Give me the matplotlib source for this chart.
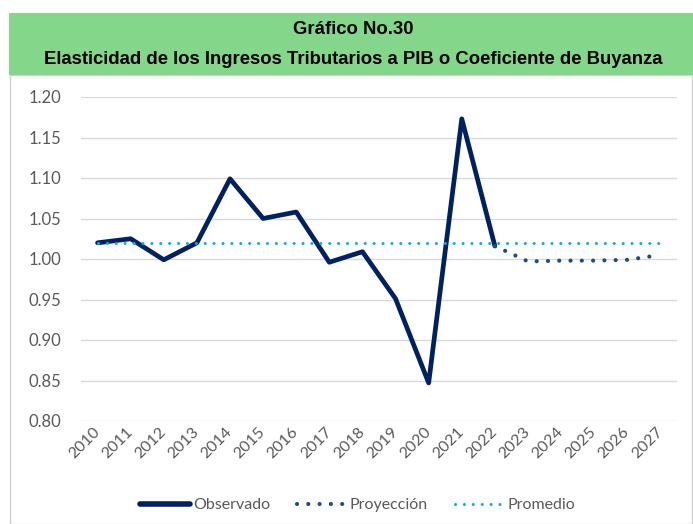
import numpy as np
import matplotlib
matplotlib.use("Agg")
import matplotlib.pyplot as plt
import matplotlib.transforms as mtransforms
from matplotlib.patches import Rectangle
from matplotlib.lines import Line2D

# =========================================================
# Datos
# =========================================================
YEARS = [str(y) for y in range(2010, 2028)]

# Observado 2010-2022
OBSERVADO = [1.020, 1.025, 0.999, 1.020, 1.099, 1.050, 1.058, 0.996, 1.009,
             0.951, 0.847, 1.173, 1.016]

# Proyeccion 2022-2027 (arranca en el ultimo observado)
PROYECCION = [1.016, 0.997, 0.998, 0.998, 0.999, 1.005]

# Promedio constante
PROMEDIO = 1.02

TITLE_1 = "Gráfico No.30"
TITLE_2 = "Elasticidad de los Ingresos Tributarios a PIB o Coeficiente de Buyanza"

# Colores
NAVY = "#002060"
PROY_COLOR = "#1F4E79"
LIGHT_BLUE = "#00B0F0"
GREEN = "#84D78A"
GRID = "#D9D9D9"
TEXT_GRAY = "#595959"

W, H = 693, 524


def px_x(x):
    return x / W


def px_y(y):
    return 1 - y / H


def main():
    fig = plt.figure(figsize=(W / 100, H / 100), dpi=100)

    # marco del grafico (detras de los ejes)
    fig.add_artist(Rectangle((px_x(10), 0), 1 - px_x(10) - 0.002, px_y(75),
                             transform=fig.transFigure, facecolor="white",
                             edgecolor="#D0D0D0", lw=1, zorder=-2))

    # banda verde del titulo
    fig.add_artist(Rectangle((px_x(9), px_y(75)), 1 - px_x(9), px_y(13) - px_y(75),
                             transform=fig.transFigure, facecolor=GREEN,
                             edgecolor="none", zorder=-1))
    fig.text(px_x(353), px_y(29), TITLE_1, ha="center", va="center",
             fontsize=13.3, fontweight="bold", family="Liberation Sans")
    fig.text(px_x(353), px_y(59), TITLE_2, ha="center", va="center",
             fontsize=13.3, fontweight="bold", family="Liberation Sans")

    ax = fig.add_axes([px_x(81), px_y(421), (677 - 81) / W, (421 - 97) / H])

    x = np.arange(len(YEARS))
    x_obs = x[:len(OBSERVADO)]
    x_proy = x[len(OBSERVADO) - 1:]

    ax.plot(x_obs, OBSERVADO, color=NAVY, lw=3.4,
            solid_joinstyle="round", solid_capstyle="round", zorder=3)

    proy_line, = ax.plot(x_proy, PROYECCION, color=PROY_COLOR, lw=3.0,
                         dash_capstyle="round", zorder=3)
    proy_line.set_dashes([0.01, 2.7])

    prom_line, = ax.plot(x, [PROMEDIO] * len(x), color=LIGHT_BLUE, lw=2.2,
                         dash_capstyle="round", zorder=4)
    prom_line.set_dashes([0.01, 2.9])

    ax.set_xlim(-0.5, len(YEARS) - 0.5)
    ax.set_ylim(0.80, 1.20)
    ax.set_yticks(np.arange(0.80, 1.201, 0.05))
    ax.set_yticklabels([f"{v:.2f}" for v in np.arange(0.80, 1.201, 0.05)])
    ax.set_xticks(x)
    ax.set_xticklabels(YEARS, rotation=45, ha="right", va="center",
                       rotation_mode="anchor")

    for lbl in ax.get_yticklabels():
        lbl.set_family("Lato")
        lbl.set_fontsize(12)
        lbl.set_color(TEXT_GRAY)
    for lbl in ax.get_xticklabels():
        lbl.set_family("Lato")
        lbl.set_fontsize(11.5)
        lbl.set_color(TEXT_GRAY)

    # corre las etiquetas del eje x un poco a la derecha
    shift = mtransforms.ScaledTranslation(7 / 100, 0, fig.dpi_scale_trans)
    for lbl in ax.get_xticklabels():
        lbl.set_transform(lbl.get_transform() + shift)

    ax.tick_params(axis="y", length=0, pad=14)
    ax.tick_params(axis="x", length=0, pad=6)
    ax.grid(axis="y", color=GRID, lw=1)
    ax.set_axisbelow(True)
    for s in ax.spines.values():
        s.set_visible(False)
    ax.set_facecolor("none")

    # leyenda
    h_obs = Line2D([], [], color=NAVY, lw=4.0, solid_capstyle="round")
    h_proy = Line2D([], [], color=PROY_COLOR, lw=3.0, dash_capstyle="round")
    h_proy.set_dashes([0.01, 2.7])
    h_prom = Line2D([], [], color=LIGHT_BLUE, lw=2.2, dash_capstyle="round")
    h_prom.set_dashes([0.01, 2.9])

    leg = fig.legend([h_obs, h_proy, h_prom],
                     ["Observado", "Proyección", "Promedio"],
                     loc="center", bbox_to_anchor=(px_x(358), px_y(505)),
                     ncol=3, frameon=False, handlelength=3.1,
                     handletextpad=0.2, columnspacing=1.7,
                     prop={"family": "Lato", "size": 11.5})
    for t in leg.get_texts():
        t.set_color(TEXT_GRAY)

    fig.savefig("out.png", dpi=100)
    plt.close(fig)


if __name__ == "__main__":
    main()
